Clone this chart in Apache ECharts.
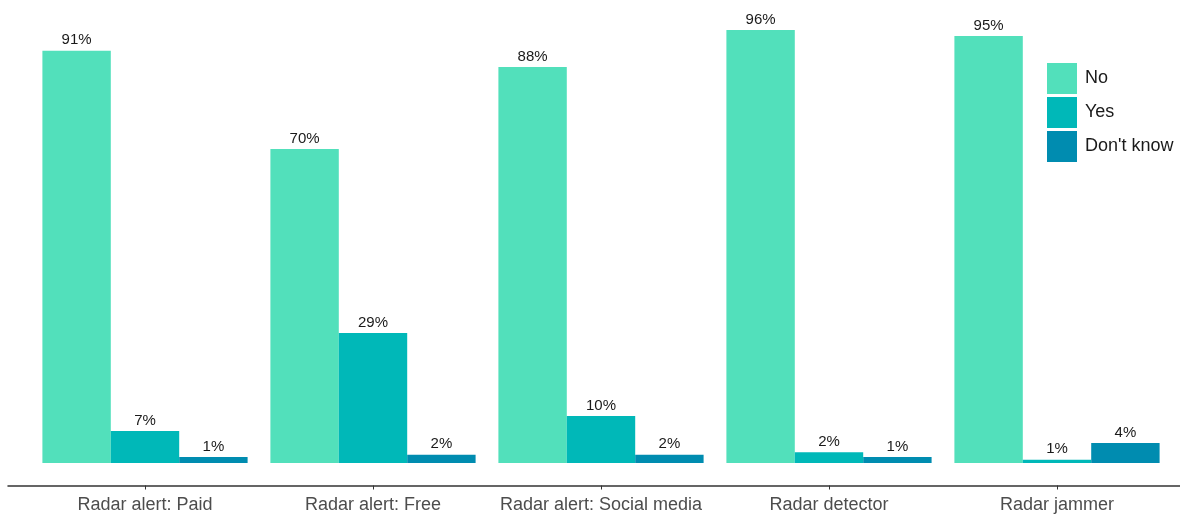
<!DOCTYPE html>
<html><head><meta charset="utf-8">
<script src="https://cdn.jsdelivr.net/npm/echarts@6/dist/echarts.min.js"></script>
<style>html,body{margin:0;padding:0;background:#fff}#c{width:1180px;height:515px}</style>
</head><body><div id="c"></div>
<script>
const categories = ["Radar alert: Paid", "Radar alert: Free", "Radar alert: Social media", "Radar detector", "Radar jammer"];
const seriesNames = ["No", "Yes", "Don't know"];
const noValues = [91.4, 69.6, 87.8, 96.0, 94.7];
const yesValues = [7.1, 28.8, 10.4, 2.4, 0.7];
const dkValues = [1.3, 1.8, 1.8, 1.3, 4.4];
const colors = ["#52E0BB", "#00B8B8", "#008CB0"];

const chart = echarts.init(document.getElementById('c'));
const label = {
  show: true, position: 'top', distance: 3,
  fontFamily: 'Liberation Sans, Arial, sans-serif', fontSize: 15, color: '#1a1a1a',
  formatter: p => Math.round(p.value) + '%'
};
const mk = (name, data, i) => ({
  name, type: 'bar', data, xAxisIndex: 0, yAxisIndex: 0,
  barGap: '0%', barCategoryGap: '10%',
  itemStyle: { color: colors[i] }, label, emphasis: { disabled: true }
});
chart.setOption({
  animation: false,
  grid: [
    { left: 31, right: 9, top: 12, bottom: 29.5 },
    { left: 8, right: 0, top: 12, bottom: 29.5 }
  ],
  legend: {
    orient: 'vertical', left: 1042, top: 58, itemWidth: 30, itemHeight: 31, itemGap: 3,
    icon: 'rect', data: seriesNames,
    textStyle: { fontFamily: 'Liberation Sans, Arial, sans-serif', fontSize: 18, color: '#1a1a1a', padding: [0, 0, 0, 3] }
  },
  xAxis: [
    { type: 'category', data: categories, gridIndex: 0,
      axisLine: { show: false, onZero: false },
      axisTick: { show: true, alignWithLabel: true, length: 4, lineStyle: { color: '#333' } },
      axisLabel: { interval: 0, fontFamily: 'Liberation Sans, Arial, sans-serif', fontSize: 18, color: '#4d4d4d', margin: 11 } },
    { type: 'value', gridIndex: 1, min: 0, max: 1,
      axisLine: { show: true, lineStyle: { color: '#333', width: 1.5 } },
      axisTick: { show: false }, axisLabel: { show: false }, splitLine: { show: false } }
  ],
  yAxis: [
    { type: 'value', gridIndex: 0, min: -5, max: 100, show: false, splitLine: { show: false } },
    { type: 'value', gridIndex: 1, min: 0, max: 1, show: false }
  ],
  series: [
    mk(seriesNames[0], noValues, 0),
    mk(seriesNames[1], yesValues, 1),
    mk(seriesNames[2], dkValues, 2)
  ]
});
</script></body></html>
